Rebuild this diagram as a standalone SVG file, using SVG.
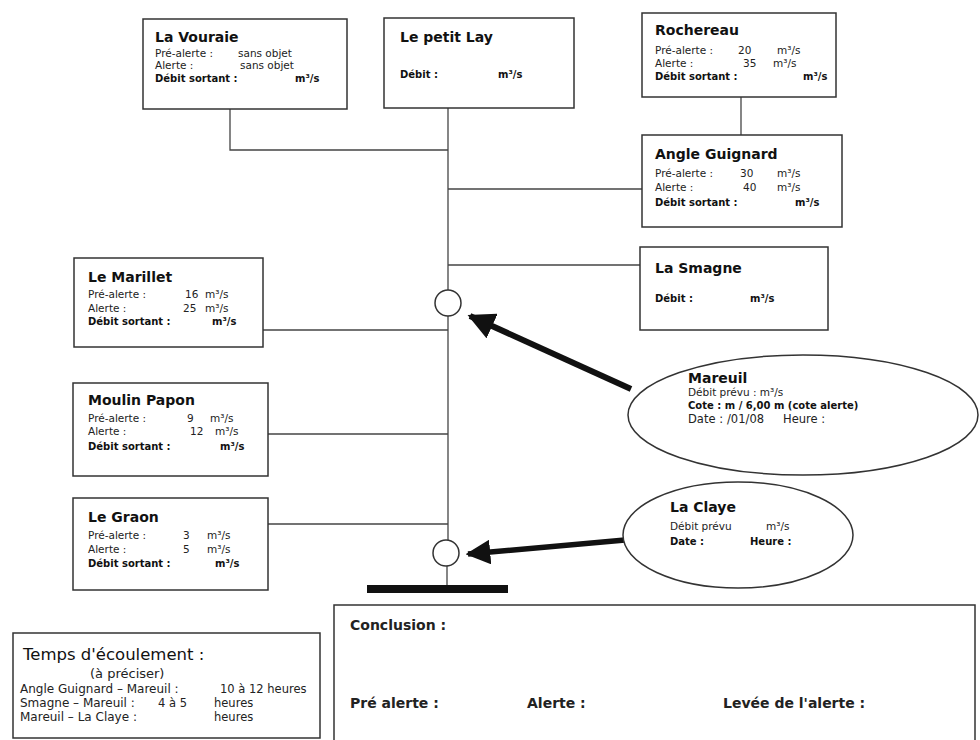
<svg xmlns="http://www.w3.org/2000/svg" width="980" height="740" viewBox="0 0 980 740">
<defs>
<style>
.box{fill:#fff;stroke:#333;stroke-width:1.5}
.ln{fill:none;stroke:#444;stroke-width:1.3}
text{font-family:"DejaVu Sans","Liberation Sans",Arial,sans-serif;fill:#111}
.t{font-size:14px;font-weight:bold}
.s{font-size:10.5px;fill:#222}
.b{font-size:10px;font-weight:bold}
.m{font-size:11.5px;fill:#222}
.c{font-size:14px;font-weight:bold;fill:#222}
</style>
<marker id="ah" viewBox="0 0 10 10" refX="9" refY="5" markerWidth="4.5" markerHeight="4.5" orient="auto" markerUnits="strokeWidth">
<path d="M0,0 L10,5 L0,10 z" fill="#111"/>
</marker>
</defs>
<rect width="980" height="740" fill="#fff"/>
<g id="connectors">
<polyline class="ln" points="230,109 230,150 448,150"/>
<line class="ln" x1="448" y1="108" x2="448" y2="290"/>
<line class="ln" x1="448" y1="316" x2="448" y2="540"/>
<line class="ln" x1="447" y1="566" x2="447" y2="586"/>
<line class="ln" x1="741" y1="97" x2="741" y2="135"/>
<line class="ln" x1="448" y1="189" x2="642" y2="189"/>
<line class="ln" x1="448" y1="265" x2="640" y2="265"/>
<line class="ln" x1="263" y1="330" x2="448" y2="330"/>
<line class="ln" x1="268" y1="434" x2="448" y2="434"/>
<line class="ln" x1="268" y1="524" x2="448" y2="524"/>
<line x1="631" y1="389" x2="470" y2="316" stroke="#111" stroke-width="6" marker-end="url(#ah)"/>
<line x1="625" y1="540" x2="468" y2="554" stroke="#111" stroke-width="5.5" marker-end="url(#ah)"/>
</g>
<g id="junction-1"><circle cx="448" cy="303" r="13" fill="#fff" stroke="#333" stroke-width="1.5"/></g>
<g id="junction-2"><circle cx="446" cy="553" r="13" fill="#fff" stroke="#333" stroke-width="1.5"/></g>
<g id="outlet"><rect x="367" y="585" width="141" height="8" fill="#111"/></g>

<g id="la-vouraie">
<rect class="box" x="143" y="19" width="204" height="90"/>
<text class="t" x="155" y="42">La Vouraie</text>
<text class="s" x="155" y="57">Pré-alerte :</text><text class="s" x="238" y="57">sans objet</text>
<text class="s" x="155" y="69">Alerte :</text><text class="s" x="240" y="69">sans objet</text>
<text class="b" x="155" y="82">Débit sortant :</text><text class="b" x="295" y="82">m³/s</text>
</g>
<g id="le-petit-lay">
<rect class="box" x="384" y="18" width="190" height="90"/>
<text class="t" x="400" y="42">Le petit Lay</text>
<text class="b" x="400" y="78">Débit :</text><text class="b" x="498" y="78">m³/s</text>
</g>
<g id="rochereau">
<rect class="box" x="642" y="13" width="194" height="84"/>
<text class="t" x="655" y="35">Rochereau</text>
<text class="s" x="655" y="54">Pré-alerte :</text><text class="s" x="738" y="54">20</text><text class="s" x="777" y="54">m³/s</text>
<text class="s" x="655" y="67">Alerte :</text><text class="s" x="743" y="67">35</text><text class="s" x="773" y="67">m³/s</text>
<text class="b" x="655" y="80">Débit sortant :</text><text class="b" x="803" y="80">m³/s</text>
</g>
<g id="angle-guignard">
<rect class="box" x="642" y="135" width="200" height="92"/>
<text class="t" x="655" y="159">Angle Guignard</text>
<text class="s" x="655" y="177">Pré-alerte :</text><text class="s" x="740" y="177">30</text><text class="s" x="777" y="177">m³/s</text>
<text class="s" x="655" y="191">Alerte :</text><text class="s" x="743" y="191">40</text><text class="s" x="777" y="191">m³/s</text>
<text class="b" x="655" y="206">Débit sortant :</text><text class="b" x="795" y="206">m³/s</text>
</g>
<g id="la-smagne">
<rect class="box" x="640" y="247" width="188" height="83"/>
<text class="t" x="655" y="273">La Smagne</text>
<text class="b" x="655" y="302">Débit :</text><text class="b" x="750" y="302">m³/s</text>
</g>
<g id="le-marillet">
<rect class="box" x="74" y="258" width="189" height="89"/>
<text class="t" x="88" y="282">Le Marillet</text>
<text class="s" x="88" y="298">Pré-alerte :</text><text class="s" x="185" y="298">16</text><text class="s" x="205" y="298">m³/s</text>
<text class="s" x="88" y="312">Alerte :</text><text class="s" x="183" y="312">25</text><text class="s" x="205" y="312">m³/s</text>
<text class="b" x="88" y="325">Débit sortant :</text><text class="b" x="212" y="325">m³/s</text>
</g>
<g id="moulin-papon">
<rect class="box" x="73" y="383" width="195" height="93"/>
<text class="t" x="88" y="405">Moulin Papon</text>
<text class="s" x="88" y="422">Pré-alerte :</text><text class="s" x="187" y="422">9</text><text class="s" x="210" y="422">m³/s</text>
<text class="s" x="88" y="435">Alerte :</text><text class="s" x="190" y="435">12</text><text class="s" x="215" y="435">m³/s</text>
<text class="b" x="88" y="450">Débit sortant :</text><text class="b" x="220" y="450">m³/s</text>
</g>
<g id="le-graon">
<rect class="box" x="73" y="498" width="195" height="92"/>
<text class="t" x="88" y="522">Le Graon</text>
<text class="s" x="88" y="539">Pré-alerte :</text><text class="s" x="183" y="539">3</text><text class="s" x="207" y="539">m³/s</text>
<text class="s" x="88" y="553">Alerte :</text><text class="s" x="183" y="553">5</text><text class="s" x="207" y="553">m³/s</text>
<text class="b" x="88" y="567">Débit sortant :</text><text class="b" x="215" y="567">m³/s</text>
</g>
<g id="mareuil">
<ellipse cx="803" cy="415" rx="175" ry="60" fill="#fff" stroke="#333" stroke-width="1.5"/>
<text class="t" x="688" y="383">Mareuil</text>
<text class="s" x="688" y="396">Débit prévu : m³/s</text>
<text class="b" x="688" y="409">Cote :   m / 6,00 m (cote alerte)</text>
<text class="m" x="688" y="423">Date :</text><text class="m" x="727" y="423">/01/08</text><text class="m" x="783" y="423">Heure :</text>
</g>
<g id="la-claye">
<ellipse cx="738" cy="535" rx="115" ry="53" fill="#fff" stroke="#333" stroke-width="1.5"/>
<text class="t" x="670" y="512">La Claye</text>
<text class="s" x="670" y="530">Débit prévu</text><text class="s" x="766" y="530">m³/s</text>
<text class="b" x="670" y="545">Date :</text><text class="b" x="750" y="545">Heure :</text>
</g>
<g id="temps">
<rect class="box" x="13" y="633" width="307" height="105"/>
<text x="23" y="660" style="font-size:16.5px">Temps d'écoulement :</text>
<text class="m" x="90" y="678" style="font-size:13px">(à préciser)</text>
<text class="m" x="20" y="693" style="font-size:12px">Angle Guignard – Mareuil :</text><text class="m" x="220" y="693">10 à 12 heures</text>
<text class="m" x="20" y="707" style="font-size:12px">Smagne – Mareuil :</text><text class="m" x="158" y="707">4 à 5</text><text class="m" x="214" y="707">heures</text>
<text class="m" x="20" y="721" style="font-size:12px">Mareuil – La Claye :</text><text class="m" x="214" y="721">heures</text>
</g>
<g id="conclusion">
<rect class="box" x="334" y="605" width="641" height="140"/>
<text class="c" x="350" y="630">Conclusion :</text>
<text class="c" x="350" y="708">Pré alerte :</text>
<text class="c" x="527" y="708">Alerte :</text>
<text class="c" x="723" y="708">Levée de l'alerte :</text>
</g>
</svg>
